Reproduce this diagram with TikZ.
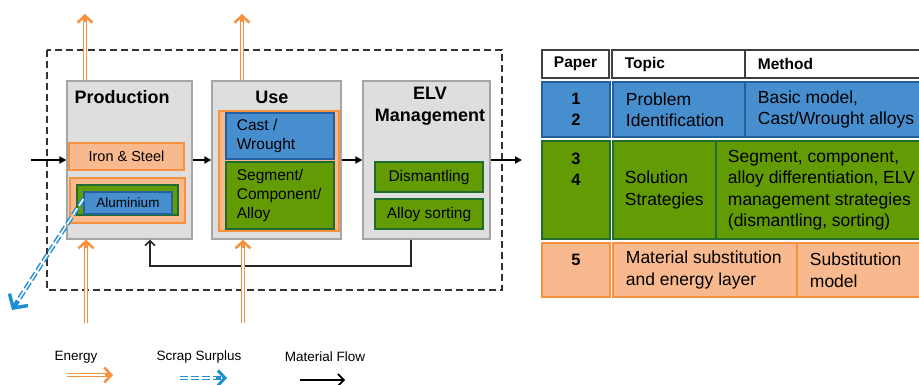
\documentclass[tikz,border=0pt]{standalone}
\usepackage{fontspec}
\setmainfont{Liberation Sans}
\usetikzlibrary{arrows.meta}
\definecolor{boxgray}{HTML}{DEDEDE}
\definecolor{boxline}{HTML}{A5A5A5}
\definecolor{peachF}{HTML}{F9B98F}
\definecolor{orangeE}{HTML}{F7913D}
\definecolor{blueF}{HTML}{478ECE}
\definecolor{blueL}{HTML}{22609E}
\definecolor{greenF}{HTML}{639B05}
\definecolor{greenL}{HTML}{206B30}
\definecolor{scrapB}{HTML}{1E8FD2}
\definecolor{headL}{HTML}{3F3F3F}

\begin{document}
\begin{tikzpicture}[x=1pt,y=-1pt,
	stage/.style={draw=boxline, fill=boxgray, line width=1.3pt},
	title/.style={font=\fontsize{18}{22}\selectfont\bfseries},
	peach/.style={draw=orangeE, fill=peachF, line width=2pt},
	greenbox/.style={draw=greenL, fill=greenF, line width=1.3pt},
	bluebox/.style={draw=blueL, fill=blueF, line width=1.3pt},
	boxtxt/.style={font=\fontsize{15.5}{19}\selectfont},
	flow/.style={draw=black, line width=1.8pt, -{Triangle[length=7pt,width=7pt]}},
	back/.style={draw=black!85, line width=1.8pt, -{Straight Barb[length=5pt,width=10pt,line width=1.5pt]}},
	energy/.style={draw=orangeE, line width=4.2pt, -{Straight Barb[length=7pt,width=15pt,line width=2.5pt]},
		postaction={draw=white, line width=1.5pt, -, shorten >=8pt}},
	scrap/.style={draw=scrapB, line width=4.5pt, dash pattern=on 8pt off 3pt, -{Straight Barb[length=10pt,width=22pt,line width=3.5pt]},
		postaction={draw=white, line width=1.5pt, -, dash pattern=on 8pt off 3pt, shorten >=11pt}},
	hcell/.style={draw=headL, fill=white, line width=1.3pt},
	bcell/.style={draw=blueL, fill=blueF, line width=1.2pt},
	gcell/.style={draw=greenL, fill=greenF, line width=1.2pt},
	ocell/.style={draw=orangeE, fill=peachF, line width=1.2pt},
	htxt/.style={font=\fontsize{15.5}{19}\selectfont\bfseries},
	ttxt/.style={font=\fontsize{17.5}{21.5}\selectfont, align=left, anchor=west},
	ntxt/.style={font=\fontsize{16.5}{21}\selectfont\bfseries, align=center},
	legtxt/.style={font=\fontsize{13.5}{16}\selectfont}]
\useasboundingbox (0,0) rectangle (919,385);

% system boundary
\draw[dashed, line width=1.3pt, black!80, dash pattern=on 7pt off 4pt] (47,50) rectangle (502,290);

% stages
\node[stage, minimum width=125pt, minimum height=158pt] (prod) at (129.5,160) {};
\node[stage, minimum width=129pt, minimum height=158pt] (use) at (276.5,160) {};
\node[stage, minimum width=127pt, minimum height=158pt] (elv) at (426.5,160) {};
\node[title] (prodlbl) at (122,97) {Production};
\node[title] (uselbl) at (272,97) {Use};
\node[title, align=center] (elvlbl) at (430,106) {ELV\\Management};

% production
\node[peach, minimum width=115pt, minimum height=27pt, font=\fontsize{14.5}{17}\selectfont] (iron) at (126.5,156.5) {Iron \& Steel};
\node[peach, minimum width=115pt, minimum height=45pt] (alfrm) at (127.5,200.5) {};
\node[greenbox, minimum width=101pt, minimum height=30pt] (algrn) at (127.5,200) {};
\node[bluebox, minimum width=88pt, minimum height=22pt, font=\fontsize{13.5}{16}\selectfont] (alu) at (128,203) {Aluminium};

% use
\node[draw=orangeE, fill=peachF, line width=1.5pt, minimum width=120pt, minimum height=120pt] (usefrm) at (279,171) {};
\node[bluebox, minimum width=108pt, minimum height=46pt] (cast) at (280,136) {};
\node[greenbox, minimum width=108pt, minimum height=67pt] (seg) at (280,195.5) {};
\node[boxtxt, align=left, anchor=west] (casttxt) at ([xshift=8pt]cast.west) {Cast /\\Wrought};
\node[boxtxt, align=left, anchor=west] (segtxt) at ([xshift=8pt]seg.west) {Segment/\\Component/\\Alloy};

% elv management
\node[greenbox, boxtxt, minimum width=108pt, minimum height=30pt] (dism) at (429,177) {Dismantling};
\node[greenbox, boxtxt, minimum width=108pt, minimum height=30pt] (sort) at (429,214) {Alloy sorting};

% material flows
\coordinate (inflow) at (31,160);
\coordinate (outflow) at (522,160);
\coordinate (fbl) at (150,266);
\draw[flow] (inflow) -- (prod);
\draw[flow] (prod) -- (use);
\draw[flow] (use) -- (elv);
\draw[flow] (elv) -- (outflow);
\draw[back] ([xshift=-15.5pt]elv.south) |- (fbl) -- (fbl |- prod.south);

% energy
\coordinate (eout1) at (85,14);
\coordinate (eout2) at (242,14);
\coordinate (ein1) at (86,323);
\coordinate (ein2) at (243,323);
\draw[energy] (eout1 |- prod.north) -- (eout1);
\draw[energy] (eout2 |- use.north) -- (eout2);
\draw[energy] (ein1) -- (ein1 |- prod.south);
\draw[energy] (ein2) -- (ein2 |- use.south);

% scrap surplus
\coordinate (scrapend) at (12,310);
\draw[scrap] ([yshift=4pt]alu.west) -- (scrapend);

% legend
\node[legtxt] (legE) at (76,357) {Energy};
\node[legtxt] (legS) at (199,357) {Scrap Surplus};
\node[legtxt] (legM) at (325,357) {Material Flow};
\coordinate (lE1) at (67,375);  \coordinate (lE2) at (113,375);
\coordinate (lS1) at (180,378); \coordinate (lS2) at (227,378);
\coordinate (lM1) at (300,380); \coordinate (lM2) at (345,380);
\draw[energy] (lE1) -- (lE2);
\draw[scrap, -{Straight Barb[length=7pt,width=15pt,line width=3pt]}] (lS1) -- (lS2);
\draw[draw=black, line width=1.8pt, -{Straight Barb[length=6pt,width=12pt,line width=1.6pt]}] (lM1) -- (lM2);

% table
\node[hcell, minimum width=67pt, minimum height=28pt] (hpap) at (575.5,64) {};
\node[hcell, minimum width=133pt, minimum height=28pt] (htop) at (678.5,64) {};
\node[hcell, minimum width=195pt, minimum height=28pt] (hmet) at (842.5,64) {};
\node[htxt] at (hpap) {Paper};
\node[htxt, anchor=west] at ([xshift=10pt]htop.west) {Topic};
\node[htxt, anchor=west] at ([xshift=10pt]hmet.west) {Method};

\node[bcell, minimum width=68pt, minimum height=55pt] (b1) at (576,109.5) {};
\node[bcell, minimum width=132pt, minimum height=55pt] (b2) at (679,109.5) {};
\node[bcell, minimum width=195pt, minimum height=55pt] (b3) at (842.5,109.5) {};
\node[ntxt] at (b1) {1\\2};
\node[ttxt] at ([xshift=10pt]b2.west) {Problem\\Identification};
\node[ttxt] at ([xshift=10pt]b3.west) {Basic model,\\Cast/Wrought alloys};

\node[gcell, minimum width=68pt, minimum height=98pt] (g1) at (576,190) {};
\node[gcell, minimum width=103pt, minimum height=98pt] (g2) at (664.5,190) {};
\node[gcell, minimum width=224pt, minimum height=98pt] (g3) at (828,190) {};
\node[ntxt] at (576,169) {3\\4};
\node[ttxt] at ([xshift=9pt]g2.west) {Solution\\Strategies};
\node[ttxt] at ([xshift=9pt]g3.west) {Segment, component,\\alloy differentiation, ELV\\management strategies\\(dismantling, sorting)};

\node[ocell, minimum width=68pt, minimum height=54pt] (o1) at (576,270) {};
\node[ocell, minimum width=184pt, minimum height=54pt] (o2) at (705,270) {};
\node[ocell, minimum width=143pt, minimum height=54pt] (o3) at (868.5,270) {};
\node[ntxt] at (576,260) {5};
\node[ttxt] at ([xshift=10pt]o2.west) {Material substitution\\and energy layer};
\node[ttxt] at ([xshift=10pt]o3.west) {Substitution\\model};
\end{tikzpicture}
\end{document}
